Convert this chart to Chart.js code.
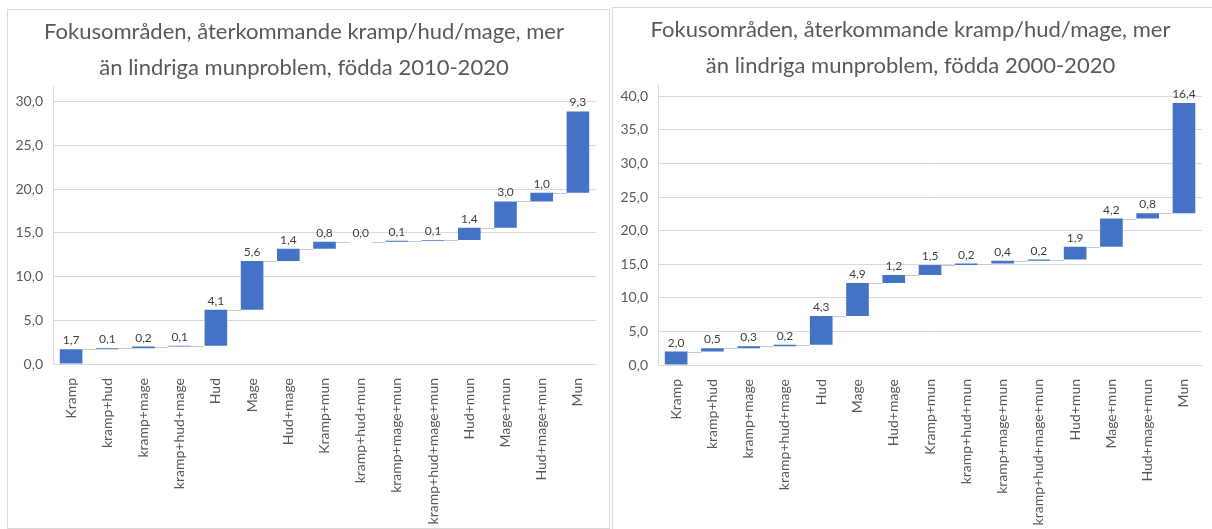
<!DOCTYPE html>
<html><head><meta charset="utf-8">
<script src="https://cdn.jsdelivr.net/npm/chart.js@4"></script>
<style>
body{margin:0;background:#fff;width:1212px;height:529px;overflow:hidden;position:relative;font-family:Lato}
.panel{position:absolute;border:1px solid #d9d9d9;background:#fff;box-sizing:border-box}
#p1{left:7px;top:9px;width:603px;height:520px}
#p2{left:612px;top:7px;width:604px;height:523px}
canvas{display:block}
</style></head>
<body>
<div class="panel" id="p1"><canvas id="c1" width="601" height="518"></canvas></div>
<div class="panel" id="p2"><canvas id="c2" width="602" height="521"></canvas></div>
<script>
const categories = ['Kramp','kramp+hud','kramp+mage','kramp+hud+mage','Hud','Mage','Hud+mage','Kramp+mun','kramp+hud+mun','kramp+mage+mun','kramp+hud+mage+mun','Hud+mun','Mage+mun','Hud+mage+mun','Mun'];
const values2010 = [1.7,0.1,0.2,0.1,4.1,5.6,1.4,0.8,0.0,0.1,0.1,1.4,3.0,1.0,9.3];
const values2000 = [2.0,0.5,0.3,0.2,4.3,4.9,1.2,1.5,0.2,0.4,0.2,1.9,4.2,0.8,16.4];
const title2010 = ['Fokusområden, återkommande kramp/hud/mage, mer','än lindriga munproblem, födda 2010-2020'];
const title2000 = ['Fokusområden, återkommande kramp/hud/mage, mer','än lindriga munproblem, födda 2000-2020'];
const yTicks2010 = [0,5,10,15,20,25,30];
const yTicks2000 = [0,5,10,15,20,25,30,35,40];

const fmt = v => v.toFixed(1).replace('.', ',');

function floating(values){
  let run = 0;
  return values.map(v => { const s = run; run = +(run + v).toFixed(2); return [s, run]; });
}

const waterfallPlugin = {
  id: 'waterfall',
  afterDatasetsDraw(chart){
    const ctx = chart.ctx;
    const meta = chart.getDatasetMeta(0);
    const ys = chart.scales.y;
    const vals = chart.data.datasets[0].rawValues;
    const ranges = chart.data.datasets[0].data;
    ctx.save();
    ctx.strokeStyle = '#c8c8c8';
    ctx.lineWidth = 1;
    for (let i = 0; i < meta.data.length - 1; i++){
      const a = meta.data[i], b = meta.data[i+1];
      const y = Math.round(ys.getPixelForValue(ranges[i][1])) + 0.5;
      ctx.beginPath();
      ctx.moveTo(a.x + a.width/2, y);
      ctx.lineTo(b.x - b.width/2, y);
      ctx.stroke();
    }
    ctx.fillStyle = '#404040';
    ctx.font = '12px Lato';
    ctx.textAlign = 'center';
    ctx.textBaseline = 'alphabetic';
    meta.data.forEach((el, i) => {
      const top = Math.min(el.y, el.base);
      ctx.fillText(fmt(vals[i]), el.x, top - 5);
    });
    ctx.restore();
  }
};

function makeChart(id, values, title, yTicks, yMax, padRight){
  new Chart(document.getElementById(id), {
    type: 'bar',
    data: {
      labels: categories,
      datasets: [{
        data: floating(values),
        rawValues: values,
        backgroundColor: '#4472C4',
        borderWidth: 0,
        borderSkipped: false,
        barPercentage: 0.625,
        categoryPercentage: 1.0
      }]
    },
    options: {
      responsive: false,
      animation: false,
      devicePixelRatio: 1,
      layout: { padding: { left: 0, right: padRight, top: 0, bottom: 0 } },
      plugins: {
        legend: { display: false },
        tooltip: { enabled: false },
        title: {
          display: true,
          text: title,
          color: '#595959',
          font: { family: 'Lato', size: 22, weight: 'normal', lineHeight: 1.64 },
          padding: { top: 4, bottom: 0 }
        }
      },
      scales: {
        x: {
          offset: true,
          grid: { display: false, drawTicks: false },
          border: { display: true, color: '#d9d9d9' },
          ticks: {
            autoSkip: false, maxRotation: 90, minRotation: 90,
            color: '#595959', font: { family: 'Lato', size: 14 }, padding: 14
          },
          afterFit(s){ s.height = 164; }
        },
        y: {
          min: 0, max: yMax,
          grid: { color: '#d9d9d9', drawTicks: false },
          border: { display: true, color: '#d9d9d9' },
          ticks: {
            includeBounds: false,
            color: '#595959', font: { family: 'Lato', size: 14 }, padding: 10,
            callback: v => fmt(v)
          },
          afterBuildTicks(s){ s.ticks = yTicks.map(v => ({ value: v })); },
          afterFit(s){ s.width = 45; }
        }
      }
    },
    plugins: [waterfallPlugin]
  });
}

makeChart('c1', values2010, title2010, yTicks2010, 31.8, 9);
makeChart('c2', values2000, title2000, yTicks2000, 41.8, 7);
</script>
</body></html>
